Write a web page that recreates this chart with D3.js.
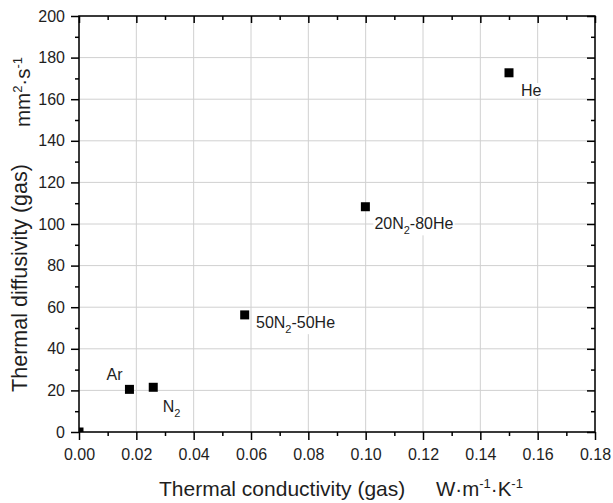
<!DOCTYPE html>
<html>
<head>
<meta charset="utf-8">
<script src="https://cdn.jsdelivr.net/npm/d3@7"></script>
<style>
  body { margin: 0; background: #fff; }
  svg { font-family: "Liberation Sans", Arial, sans-serif; }
</style>
</head>
<body>
<svg id="chart" width="613" height="503"></svg>
<script>
// data
const gases = ["", "Ar", "N2", "50N2-50He", "20N2-80He", "He"];
const conductivity = [0, 0.0176, 0.0259, 0.0578, 0.0999, 0.150];
const diffusivity = [0, 20.5, 21.5, 56.3, 108.3, 172.7];

const xTicks = [0, 0.02, 0.04, 0.06, 0.08, 0.10, 0.12, 0.14, 0.16, 0.18];
const xMinorTicks = [0.01, 0.03, 0.05, 0.07, 0.09, 0.11, 0.13, 0.15, 0.17];
const yTicks = [0, 20, 40, 60, 80, 100, 120, 140, 160, 180, 200];
const yMinorTicks = [10, 30, 50, 70, 90, 110, 130, 150, 170, 190];

const xTitle = "Thermal conductivity (gas)";
const yTitle = "Thermal diffusivity (gas)";
const xUnit = [["W·m", false], ["-1", true], ["·K", false], ["-1", true]];
const yUnit = [["mm", false], ["2", true], ["·s", false], ["-1", true]];

// label placement relative to the point centre (px)
const labelOffset = {
  "Ar": [-7, -9, "end"],
  "N2": [9.4, 24.4, "start"],
  "50N2-50He": [11.3, 12.7, "start"],
  "20N2-80He": [9, 22, "start"],
  "He": [12, 23.3, "start"]
};

const margin = {top: 16, right: 18, bottom: 71, left: 79};
const width = 613 - margin.left - margin.right;
const height = 503 - margin.top - margin.bottom;
const textColor = "#1e1e1e";

const svg = d3.select("#chart");
const g = svg.append("g").attr("transform", `translate(${margin.left},${margin.top})`);

const xScale = d3.scaleLinear().domain([0, 0.18]).range([0, width]);
const yScale = d3.scaleLinear().domain([0, 200]).range([height, 0]);

svg.append("defs").append("clipPath").attr("id", "plotClip")
  .append("rect").attr("width", width).attr("height", height);

// grid
g.append("g").selectAll("line").data(xTicks).join("line")
  .attr("x1", d => xScale(d)).attr("x2", d => xScale(d))
  .attr("y1", 0).attr("y2", height)
  .attr("stroke", "#d0d0d0").attr("stroke-width", 1);
g.append("g").selectAll("line").data(yTicks).join("line")
  .attr("y1", d => yScale(d)).attr("y2", d => yScale(d))
  .attr("x1", 0).attr("x2", width)
  .attr("stroke", "#d0d0d0").attr("stroke-width", 1);

// point labels with white background
const points = gases.map((name, i) => ({name: name, x: conductivity[i], y: diffusivity[i]}));
const labelGroup = g.append("g");
points.filter(d => d.name !== "").forEach(d => {
  const off = labelOffset[d.name];
  const text = labelGroup.append("text")
    .attr("x", xScale(d.x) + off[0])
    .attr("y", yScale(d.y) + off[1])
    .attr("text-anchor", off[2])
    .attr("font-size", 16)
    .attr("fill", textColor);
  // "N2" gets a subscript 2
  const parts = d.name.split("N2");
  let shifted = false;
  parts.forEach((part, i) => {
    if (part !== "") {
      const span = text.append("tspan").text(part);
      if (shifted) span.attr("dy", -5.6);
      shifted = false;
    }
    if (i < parts.length - 1) {
      text.append("tspan").text("N");
      text.append("tspan").attr("dy", 5.6).attr("font-size", 11).text("2");
      shifted = true;
    }
  });
  const box = text.node().getBBox();
  labelGroup.insert("rect", () => text.node())
    .attr("x", box.x - 1).attr("y", box.y + 1)
    .attr("width", box.width + 2).attr("height", box.height - 2)
    .attr("fill", "#fff");
});

// points
g.append("g").attr("clip-path", "url(#plotClip)")
  .selectAll("rect").data(points).join("rect")
  .attr("x", d => xScale(d.x) - 4.5)
  .attr("y", d => yScale(d.y) - 4.5)
  .attr("width", 9).attr("height", 9)
  .attr("fill", "#000");

// axes
function styleAxis(sel) {
  sel.attr("font-family", null).attr("font-size", 16);
  sel.select(".domain").remove();
  sel.selectAll("line").attr("stroke", "#000").attr("stroke-width", 1.5);
  sel.selectAll("text").attr("fill", textColor);
}
g.append("g").attr("transform", `translate(0,${height})`)
  .call(d3.axisBottom(xScale).tickValues(xTicks).tickFormat(d3.format(".2f")).tickSize(8).tickPadding(8.6))
  .call(styleAxis);
g.append("g").attr("transform", `translate(0,${height})`)
  .call(d3.axisBottom(xScale).tickValues(xMinorTicks).tickFormat("").tickSize(4))
  .call(styleAxis);
g.append("g")
  .call(d3.axisLeft(yScale).tickValues(yTicks).tickFormat(d3.format("d")).tickSize(8).tickPadding(6))
  .call(styleAxis);
g.append("g")
  .call(d3.axisLeft(yScale).tickValues(yMinorTicks).tickFormat("").tickSize(4))
  .call(styleAxis);
g.append("g")
  .call(d3.axisTop(xScale).tickValues(xTicks).tickFormat("").tickSize(-7))
  .call(styleAxis);
g.append("g")
  .call(d3.axisTop(xScale).tickValues(xMinorTicks).tickFormat("").tickSize(-4))
  .call(styleAxis);
g.append("g").attr("transform", `translate(${width},0)`)
  .call(d3.axisRight(yScale).tickValues(yTicks).tickFormat("").tickSize(-8))
  .call(styleAxis);
g.append("g").attr("transform", `translate(${width},0)`)
  .call(d3.axisRight(yScale).tickValues(yMinorTicks).tickFormat("").tickSize(-4))
  .call(styleAxis);

// the empty minor-tick labels are not needed
g.selectAll("text").filter(function() { return this.textContent === ""; }).remove();

g.append("rect")
  .attr("width", width).attr("height", height)
  .attr("fill", "none").attr("stroke", "#000").attr("stroke-width", 1.5);

// titles
function addUnit(text, parts) {
  parts.forEach((p, i) => {
    const span = text.append("tspan").text(p[0]);
    if (p[1]) span.attr("dy", -8).attr("font-size", 13);
    else if (i > 0 && parts[i - 1][1]) span.attr("dy", 8);
  });
}
svg.append("text")
  .attr("x", 159).attr("y", 496)
  .attr("font-size", 21).attr("fill", textColor)
  .text(xTitle);
const xu = svg.append("text")
  .attr("x", 436).attr("y", 496)
  .attr("font-size", 20.5).attr("fill", textColor);
addUnit(xu, xUnit);

svg.append("text")
  .attr("transform", "translate(27,278) rotate(-90)")
  .attr("text-anchor", "middle")
  .attr("font-size", 21.5).attr("fill", textColor)
  .text(yTitle);
const yu = svg.append("text")
  .attr("transform", "translate(30,92) rotate(-90)")
  .attr("text-anchor", "middle")
  .attr("font-size", 20.5).attr("fill", textColor);
addUnit(yu, yUnit);
</script>
</body>
</html>
